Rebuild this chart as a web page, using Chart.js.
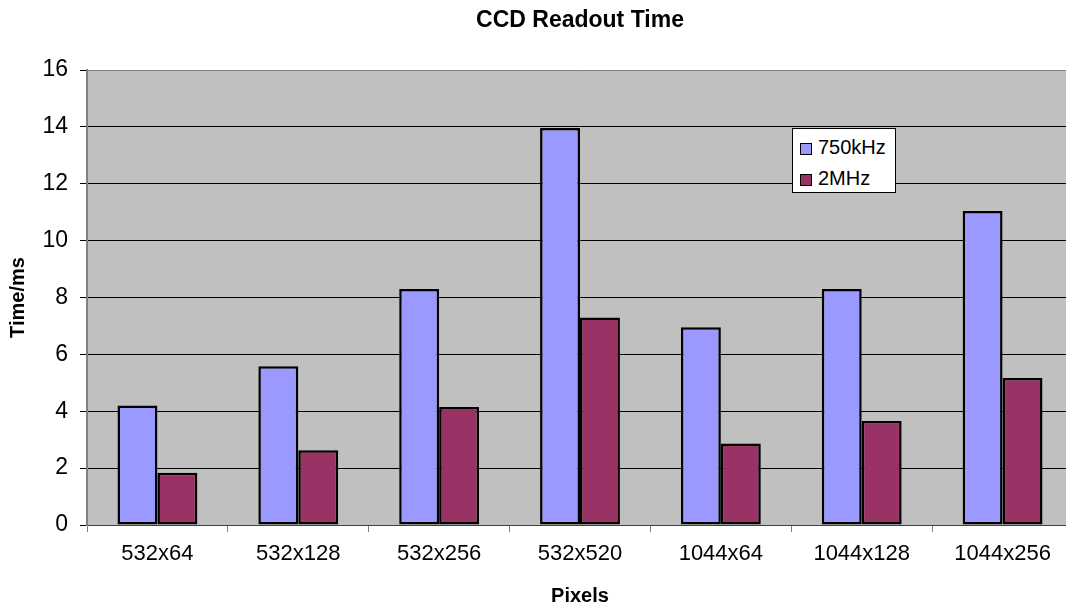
<!DOCTYPE html>
<html>
<head>
<meta charset="utf-8">
<script src="https://cdn.jsdelivr.net/npm/chart.js@4/dist/chart.umd.min.js"></script>
<style>
  html, body { margin: 0; padding: 0; background: #fff; overflow: hidden; }
  #wrap { position: relative; width: 1074px; height: 606px; }
  #legend {
    position: absolute; left: 792px; top: 128px; width: 102px; height: 63px;
    background: #fff; border: 1px solid #000;
    font: 20px "Liberation Sans", Arial, sans-serif; color: #000;
  }
  #legend .item { position: absolute; left: 7px; height: 24px; line-height: 24px; white-space: nowrap; }
  #legend .sw { display: inline-block; width: 10px; height: 10px; border: 1px solid #000; margin-right: 6px; vertical-align: -1px; }
</style>
</head>
<body>
<div id="wrap">
  <canvas id="chart"></canvas>
  <div id="legend"></div>
</div>
<script>
const categories = ['532x64', '532x128', '532x256', '532x520', '1044x64', '1044x128', '1044x256'];
const series750k = [4.2, 5.58, 8.3, 13.96, 6.95, 8.3, 11.04];
const series2M = [1.84, 2.63, 4.15, 7.3, 2.87, 3.66, 5.17];
const seriesNames = ['750kHz', '2MHz'];
const seriesColors = ['#9999FF', '#993366'];

const FONT = '"Liberation Sans", Arial, sans-serif';

// grey plot background, like the old Excel charts
const plotBackground = {
  id: 'plotBackground',
  beforeDraw(chart) {
    const { ctx, chartArea: a } = chart;
    ctx.save();
    ctx.fillStyle = '#C0C0C0';
    ctx.fillRect(a.left, a.top, a.right - a.left, a.bottom - a.top);
    ctx.restore();
  },
};

const ctx = document.getElementById('chart').getContext('2d');
const chart = new Chart(ctx, {
  type: 'bar',
  data: {
    labels: categories,
    datasets: [series750k, series2M].map((values, i) => ({
      label: seriesNames[i],
      data: values,
      backgroundColor: seriesColors[i],
      borderColor: '#000',
      borderWidth: 2.5,
      borderSkipped: false,
      categoryPercentage: 0.567,
      barPercentage: 1,
    })),
  },
  options: {
    responsive: true,
    maintainAspectRatio: false,
    animation: false,
    layout: { padding: { right: 1 } },
    plugins: {
      legend: { display: false },
      tooltip: { enabled: false },
      title: {
        display: true,
        text: 'CCD Readout Time',
        fullSize: false,
        color: '#000',
        font: { family: FONT, size: 23, weight: 'bold', lineHeight: 1 },
        padding: { top: 9, bottom: 38 },
      },
    },
    scales: {
      x: {
        grid: {
          drawOnChartArea: false,
          drawTicks: true,
          tickLength: 7,
          tickColor: '#808080',
        },
        border: { color: '#404040', width: 1 },
        ticks: { color: '#000', padding: 9, maxRotation: 0, font: { family: FONT, size: 22 } },
        title: {
          display: true,
          text: 'Pixels',
          color: '#000',
          font: { family: FONT, size: 20, weight: 'bold', lineHeight: 1 },
          padding: { top: 0, bottom: 0 },
        },
        afterFit(scale) { scale.height = 81; },
      },
      y: {
        min: 0,
        max: 16,
        ticks: { stepSize: 2, color: '#000', padding: 12, font: { family: FONT, size: 23 } },
        grid: {
          color: (c) => (c.tick && c.tick.value === 16 ? '#808080' : '#000'),
          lineWidth: 1,
          tickLength: 7,
          tickColor: '#000',
        },
        border: { color: '#808080', width: 2 },
        title: {
          display: true,
          text: 'Time/ms',
          color: '#000',
          font: { family: FONT, size: 20, weight: 'bold', lineHeight: 1 },
          padding: { top: 8 },
        },
        afterFit(scale) { scale.width = 87; },
      },
    },
  },
  plugins: [plotBackground],
});

// legend box built from the same series arrays
const legend = document.getElementById('legend');
chart.data.datasets.forEach((ds, i) => {
  const item = document.createElement('div');
  item.className = 'item';
  item.style.top = `${6 + i * 31}px`;
  item.innerHTML = `<span class="sw" style="background:${ds.backgroundColor}"></span>${ds.label}`;
  legend.appendChild(item);
});
</script>
</body>
</html>
